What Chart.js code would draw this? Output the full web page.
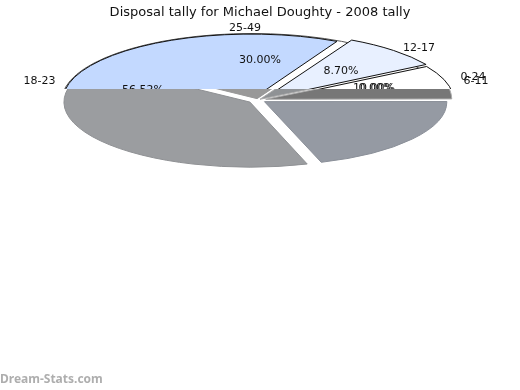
<!DOCTYPE html>
<html>
<head>
<meta charset="utf-8">
<script src="https://cdn.jsdelivr.net/npm/chart.js@4"></script>
<style>
  body{margin:0;background:#fff}
  #wrap{position:relative;width:520px;height:390px}
  canvas{position:absolute;left:0;top:0}
</style>
</head>
<body>
<div id="wrap">
  <canvas id="rim" width="520" height="390"></canvas>
  <canvas id="top" width="520" height="390"></canvas>
  <canvas id="blue" width="520" height="390"></canvas>
  <canvas id="low" width="520" height="390"></canvas>
</div>
<script>
// slice shares (percent of the full turn, clockwise)
var categories=['0-24','6-11','12-17','18-23','25-49'];
var percentTexts=['0.00%','10.00%','8.70%','56.52%','30.00%'];
var upperSlices=[8.70,27.80,63.50];      // pale, white, blue, above the cut line
var lowerSlices=[8.30,20.00,39.80,22.90,9.00]; // band, right, left, wedge, pale, below it

var titleText='Disposal tally for Michael Doughty - 2008 tally';
var footerText='Dream-Stats.com';

// where the texts sit on the page
var labelSpots={'0-24':[473,77],'6-11':[476,81],'12-17':[419,48],'18-23':[39.5,81],'25-49':[245,28]};
var percentSpots={'0.00%':[376,88],'10.00%':[374,88],'8.70%':[341,71],'56.52%':[143,90],'30.00%':[260,60]};

var CY=100,SQUASH=0.35,CUT=89;

// squashes the pie into an ellipse and keeps it on one side of the cut line
function ellipsePlugin(side,cx){
  return {
    id:'ellipse',
    beforeDatasetsDraw:function(chart){
      var ctx=chart.ctx,a=chart.chartArea;
      ctx.save();
      ctx.beginPath();
      if(side=='up') ctx.rect(0,0,520,CUT);
      else ctx.rect(0,CUT,520,390-CUT);
      ctx.clip();
      ctx.translate(cx,CY);
      ctx.scale(1,SQUASH);
      ctx.translate(-(a.left+a.right)/2,-(a.top+a.bottom)/2);
      // keep the outline the same width in both directions
      ctx.stroke=function(){
        CanvasRenderingContext2D.prototype.save.call(ctx);
        ctx.setTransform(1,0,0,1,0,0);
        CanvasRenderingContext2D.prototype.stroke.call(ctx);
        CanvasRenderingContext2D.prototype.restore.call(ctx);
      };
    },
    afterDatasetsDraw:function(chart){
      delete chart.ctx.stroke;
      chart.ctx.restore();
    }
  };
}

var textPlugin={
  id:'texts',
  afterDatasetsDraw:function(chart){
    var ctx=chart.ctx;
    ctx.save();
    ctx.fillStyle='#111';
    ctx.font='11px "DejaVu Sans"';
    ctx.textAlign='center';
    ctx.textBaseline='middle';
    categories.forEach(function(c){
      ctx.fillText(c,labelSpots[c][0],labelSpots[c][1]);
    });
    percentTexts.forEach(function(p){
      ctx.fillText(p,percentSpots[p][0],percentSpots[p][1]);
    });
    ctx.font='bold 12px "Noto Sans"';
    ctx.fillStyle='#aeaeae';
    ctx.textAlign='left';
    ctx.fillText(footerText,0,380);
    ctx.restore();
  }
};

function makePie(id,values,colors,borders,offsets,rot,r,plugins,title){
  return new Chart(document.getElementById(id),{
    type:'pie',
    data:{
      datasets:[{
        data:values,
        backgroundColor:colors,
        borderColor:borders,
        borderWidth:1,
        offset:offsets,
        radius:r,
        clip:false
      }]
    },
    options:{
      responsive:false,
      animation:false,
      rotation:rot,
      layout:{padding:0},
      plugins:{
        legend:{display:false},
        tooltip:{enabled:false},
        title:title?{display:true,text:title,color:'#111',font:{family:'"DejaVu Sans"',size:13,weight:'normal'},padding:{top:5,bottom:0}}:{display:false}
      }
    },
    plugins:plugins
  });
}

var none='rgba(0,0,0,0)';
// outer line that shows above the blue slice
makePie('rim',[1],['#fff'],['#555'],[0],0,190,[ellipsePlugin('up',252)]);
// upper face, pale and white slices
makePie('top',upperSlices,['#e8f0ff','#ffffff',none],['#111','#111',none],[16,20,0],27.5,188,[ellipsePlugin('up',261)]);
// upper face, blue slice and the texts that the lower face cuts off
makePie('blue',upperSlices,[none,none,'#c3d9ff'],[none,none,'#111'],[0,0,24],27.5,182,[ellipsePlugin('up',257),textPlugin],titleText);
// lower, greyed face
makePie('low',lowerSlices,['#777777','#959aa3','#9b9da0','#999999','#8f9295'],['#aaa','#8a8f98','#8f9194','#999','#aaa'],[32,32,40,16,12],60,182,[ellipsePlugin('down',258)]);
</script>
</body>
</html>
